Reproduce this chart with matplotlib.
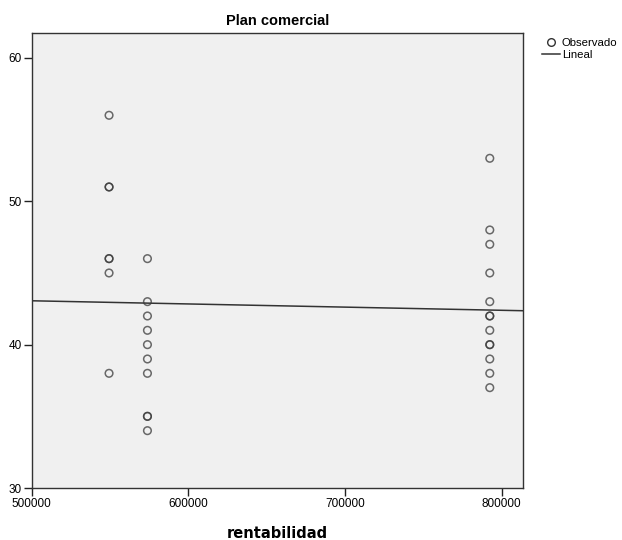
import numpy as np
import matplotlib
matplotlib.use("Agg")
import matplotlib.pyplot as plt
from matplotlib.lines import Line2D

# observed data (rentabilidad vs plan comercial)
rentabilidad = [549500] * 7 + [574000] * 10 + [792500] * 13
plan_comercial = [56, 51, 51, 46, 46, 45, 38,
                  46, 43, 42, 41, 40, 39, 38, 35, 35, 34,
                  53, 48, 47, 45, 43, 42, 42, 41, 40, 40, 39, 38, 37]
x_ticks = [500000, 600000, 700000, 800000]
y_ticks = [30, 40, 50, 60]

plt.rcParams['font.family'] = ['Liberation Sans', 'DejaVu Sans']

fig = plt.figure(figsize=(6.22, 5.4), dpi=100)
ax = fig.add_axes([31.5 / 622, 52 / 540, 491.5 / 622, 455 / 540])
ax.set_facecolor('#f0f0f0')

x = np.array(rentabilidad, dtype=float)
y = np.array(plan_comercial, dtype=float)

ax.scatter(x, y, s=30, facecolors='none', edgecolors='#3a3a3a', linewidths=1.1, alpha=0.75, zorder=3)

# linear fit
slope, intercept = np.polyfit(x, y, 1)
xlim = (500000, 813700)
xs = np.array(xlim)
ax.plot(xs, intercept + slope * xs, color='#333333', lw=1.1, zorder=2)

ax.set_xlim(*xlim)
ax.set_ylim(30, 61.74)
ax.set_xticks(x_ticks)
ax.set_yticks(y_ticks)
ax.tick_params(axis='both', direction='out', length=6, width=1, labelsize=8.5, pad=1, color='#222222')
for s in ax.spines.values():
    s.set_color('#333333')
    s.set_linewidth(1)

ax.set_title('Plan comercial', fontsize=10.5, fontweight='bold', pad=6)
ax.set_xlabel('rentabilidad', fontsize=10.5, fontweight='bold', family='DejaVu Sans', labelpad=12)

handles = [
    Line2D([0], [0], marker='o', color='none', markerfacecolor='none', markeredgecolor='#333333', markersize=5.5, label='Observado'),
    Line2D([0], [0], color='#333333', lw=1.1, label='Lineal'),
]
fig.legend(handles=handles, loc='upper left', bbox_to_anchor=(0.862, 0.94), frameon=False, fontsize=8.2,
           handlelength=1.6, handletextpad=0.15, borderpad=0, labelspacing=0.2)

plt.savefig('out.png', dpi=100)
